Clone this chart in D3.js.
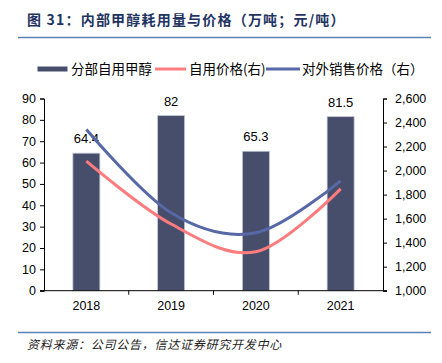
<!DOCTYPE html>
<html>
<head>
<meta charset="utf-8">
<script src="https://d3js.org/d3.v7.min.js"></script>
<style>
  body { margin: 0; background: #fff; }
  svg { font-family: "Liberation Sans", Arial, sans-serif; }
  .cjk { font-family: "Noto Sans CJK SC", sans-serif; }
  .axis text { font-size: 12.5px; fill: #000; }
  .axis path, .axis line { stroke: #000; }
</style>
</head>
<body>
<svg id="chart" width="442" height="363"></svg>
<script>
const years = ["2018", "2019", "2020", "2021"];
const selfUse = [64.4, 82, 65.3, 81.5];          // 万吨
const selfPrice = [2078, 1555, 1324, 1848];      // 元/吨
const salePrice = [2342, 1649, 1482, 1915];      // 元/吨
const leftTicks = d3.range(0, 91, 10);
const rightTicks = d3.range(1000, 2601, 200);

const svg = d3.select("#chart");
const m = { left: 44, right: 383, top: 98.5, bottom: 290.7 };

// header
svg.append("text").attr("class", "cjk")
  .attr("x", 27).attr("y", 25)
  .attr("font-size", 14).attr("font-weight", "bold").attr("fill", "#1f3462")
  .attr("letter-spacing", 1.2)
  .text("图 31：内部甲醇耗用量与价格（万吨；元/吨）");
svg.append("line").attr("x1", 18).attr("x2", 431).attr("y1", 37.5).attr("y2", 37.5)
  .attr("stroke", "#5a82b4").attr("stroke-width", 1.5);

const x = d3.scaleBand().domain(years).range([m.left, m.right]);
const yL = d3.scaleLinear().domain([0, 90]).range([m.bottom, m.top]);
const yR = d3.scaleLinear().domain([1000, 2600]).range([m.bottom, m.top]);

// bars
svg.selectAll(".bar").data(selfUse).enter().append("rect")
  .attr("x", (d, i) => x(years[i]) + x.bandwidth() / 2 - 13.5)
  .attr("width", 27)
  .attr("y", d => yL(d))
  .attr("height", d => yL(0) - yL(d))
  .attr("fill", "#464e6c")
  .attr("stroke", "#c3c7d3").attr("stroke-width", 0.8);

svg.selectAll(".lbl").data(selfUse).enter().append("text")
  .attr("x", (d, i) => x(years[i]) + x.bandwidth() / 2)
  .attr("y", d => yL(d) - 10)
  .attr("text-anchor", "middle").attr("font-size", 13)
  .text(d => d);

// lines
const line = d3.line()
  .x((d, i) => x(years[i]) + x.bandwidth() / 2)
  .y(d => yR(d))
  .curve(d3.curveCardinal.tension(0));

svg.append("path").datum(selfPrice).attr("d", line)
  .attr("fill", "none").attr("stroke", "#fe7b7e").attr("stroke-width", 3);
svg.append("path").datum(salePrice).attr("d", line)
  .attr("fill", "none").attr("stroke", "#5668a6").attr("stroke-width", 3);

// axes
svg.append("g").attr("class", "axis")
  .attr("transform", `translate(${m.left},0)`)
  .call(d3.axisLeft(yL).tickValues(leftTicks).tickSize(4).tickPadding(4));

svg.append("g").attr("class", "axis")
  .attr("transform", `translate(${m.right},0)`)
  .call(d3.axisRight(yR).tickValues(rightTicks).tickSize(4).tickPadding(8)
    .tickFormat(d3.format(",")));

const xa = svg.append("g").attr("class", "axis")
  .attr("transform", `translate(0,${m.bottom})`)
  .call(d3.axisBottom(x).tickSize(0).tickPadding(10));
xa.select(".domain").remove();
svg.append("line").attr("x1", m.left - 4).attr("x2", m.right + 4)
  .attr("y1", m.bottom).attr("y2", m.bottom).attr("stroke", "#000");
svg.selectAll(".xt").data(years.slice(1)).enter().append("line")
  .attr("x1", d => x(d)).attr("x2", d => x(d))
  .attr("y1", m.bottom).attr("y2", m.bottom + 4).attr("stroke", "#000");

// legend
const lg = svg.append("g").attr("class", "cjk").attr("font-size", 13.5);
lg.append("rect").attr("x", 37.5).attr("y", 66.5).attr("width", 30).attr("height", 5).attr("fill", "#464e6c");
lg.append("text").attr("x", 71).attr("y", 74).text("分部自用甲醇");
lg.append("line").attr("x1", 155).attr("x2", 186).attr("y1", 69).attr("y2", 69)
  .attr("stroke", "#fe7b7e").attr("stroke-width", 3);
lg.append("text").attr("x", 189).attr("y", 74).text("自用价格(右)");
lg.append("line").attr("x1", 266).attr("x2", 300).attr("y1", 69).attr("y2", 69)
  .attr("stroke", "#5668a6").attr("stroke-width", 3);
lg.append("text").attr("x", 302).attr("y", 74).text("对外销售价格（右）");

// footer
svg.append("line").attr("x1", 18).attr("x2", 431).attr("y1", 332.5).attr("y2", 332.5)
  .attr("stroke", "#5a82b4").attr("stroke-width", 1.5);
svg.append("text").attr("class", "cjk")
  .attr("x", 27).attr("y", 349).attr("font-size", 12).attr("font-style", "italic")
  .attr("fill", "#222").attr("letter-spacing", 0.75)
  .text("资料来源：公司公告，信达证券研究开发中心");
</script>
</body>
</html>
